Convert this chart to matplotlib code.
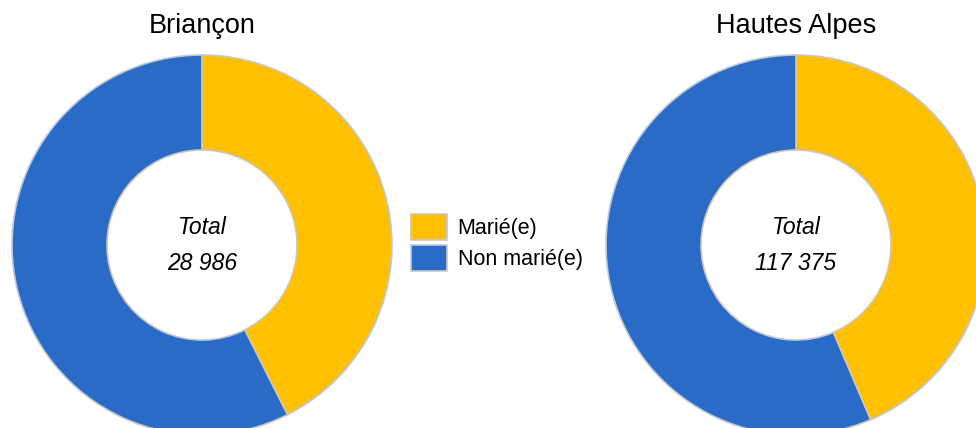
import matplotlib.pyplot as plt
from matplotlib.patches import Patch

plt.rcParams['font.family'] = ['Liberation Sans', 'DejaVu Sans']

# data
zones = ['Briançon', 'Hautes Alpes']
labels = ['Marié(e)', 'Non marié(e)']
marie = [12340, 51150]
non_marie = [16646, 66225]
totals = ['28 986', '117 375']
colors = ['#FFC000', '#2A6BC8']

W, H = 976, 428
fig = plt.figure(figsize=(W / 100, H / 100), dpi=100)
ax = fig.add_axes([0, 0, 1, 1])

centers = [(202, H - 245), (796, H - 245)]
R = 190

for i, zone in enumerate(zones):
    cx, cy = centers[i]
    ax.pie([marie[i], non_marie[i]], colors=colors, startangle=90,
           counterclock=False, center=(cx, cy), radius=R,
           wedgeprops=dict(width=R / 2, edgecolor='#c8c8c8', linewidth=1.2))
    ax.text(cx, H - 26, zone, ha='center', va='center', fontsize=19.5)
    ax.text(cx, cy + 18, 'Total', ha='center', va='center',
            fontsize=16.5, style='italic')
    ax.text(cx, cy - 18, totals[i], ha='center', va='center',
            fontsize=16.5, style='italic')

ax.set_xlim(0, W)
ax.set_ylim(0, H)
ax.set_aspect('equal')
ax.axis('off')

handles = [Patch(facecolor=c, edgecolor='#c8c8c8', linewidth=1.2) for c in colors]
fig.legend(handles, labels, loc='upper left', bbox_to_anchor=(411 / W, 1 - 214 / H),
           frameon=False, fontsize=15.5, handlelength=1.67, handleheight=1.5,
           handletextpad=0.5, labelspacing=0.2, borderpad=0, borderaxespad=0)

plt.savefig('out.png', dpi=100)
